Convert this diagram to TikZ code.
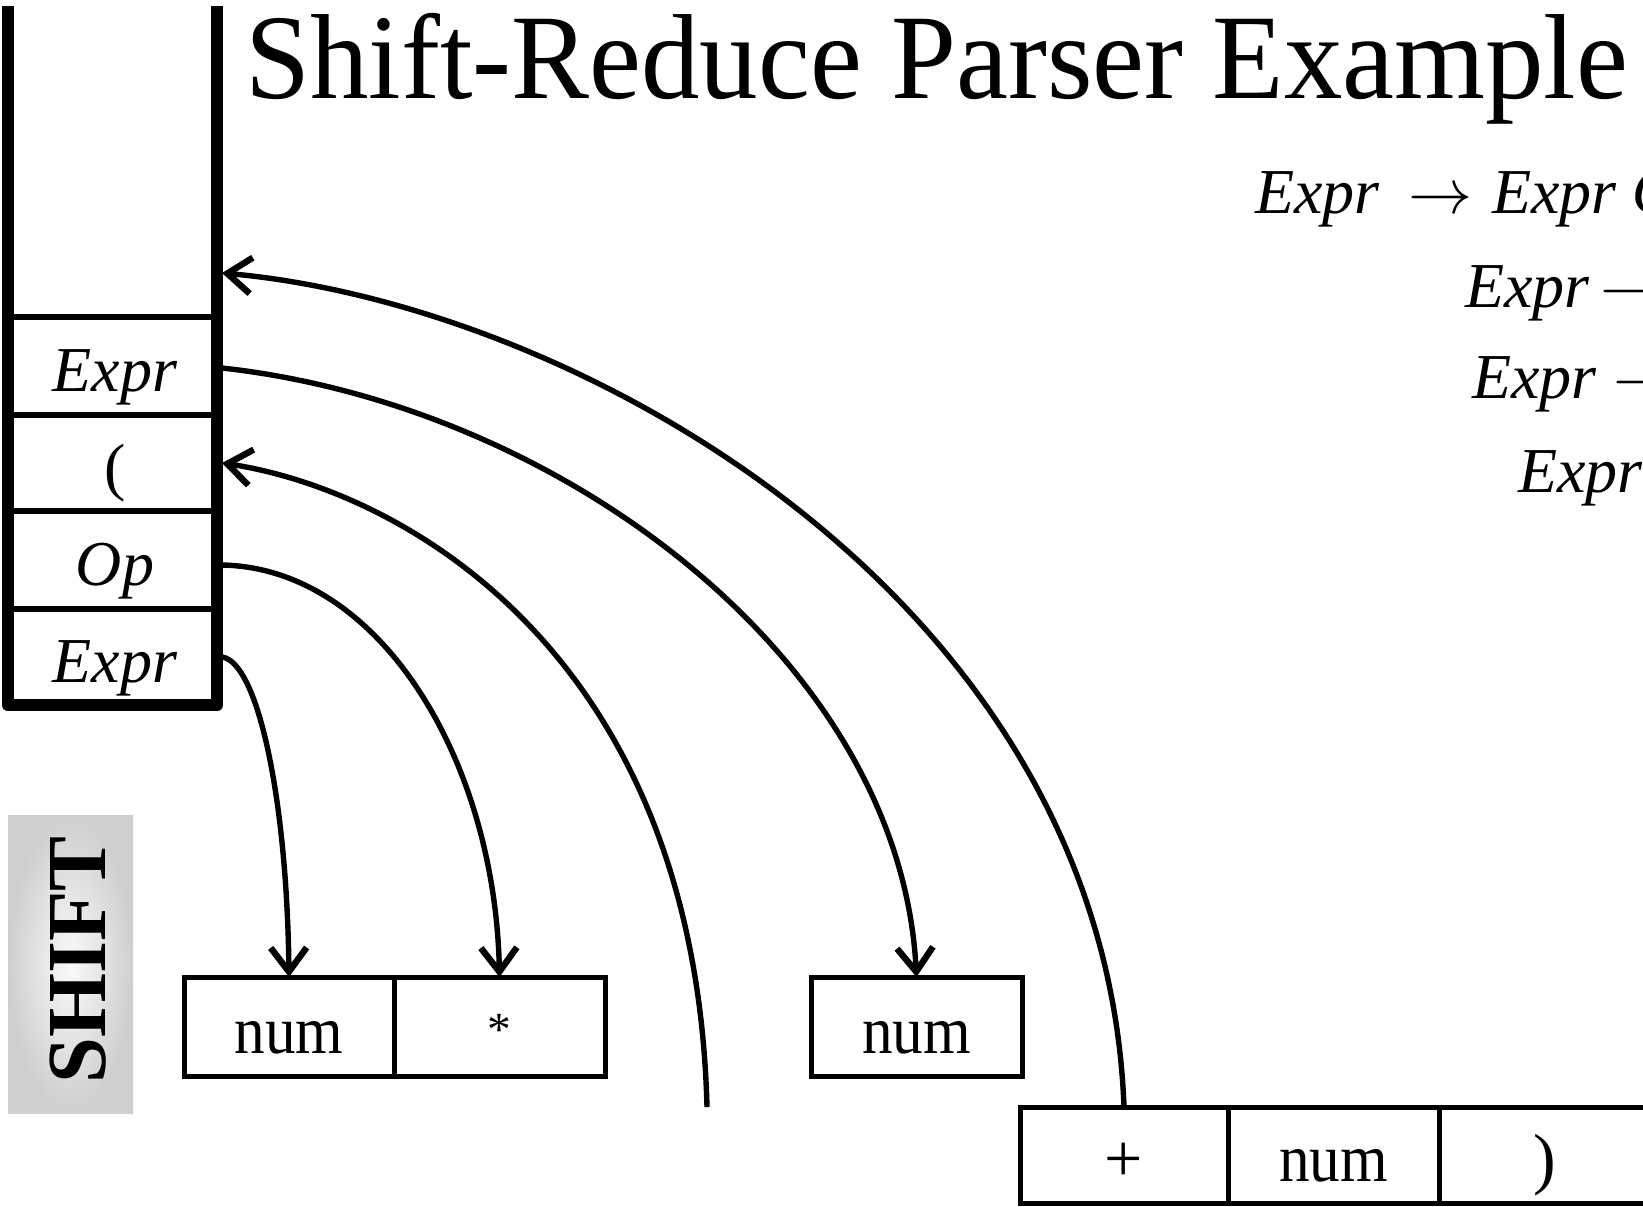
\RequirePackage{fix-cm}
\documentclass[tikz,border=0pt]{standalone}
\usepackage{fontspec}
\setmainfont{Liberation Serif}
\usetikzlibrary{arrows.meta,calc}

\begin{document}
\begin{tikzpicture}[x=0.5pt,y=-0.5pt,
  cell/.style={minimum width=107pt, inner sep=0pt, outer sep=0pt,
    font=\fontsize{32pt}{38pt}\selectfont\itshape,
    text height=32pt, text depth=7pt},
  tok/.style={draw, line width=2.5pt, minimum height=49.5pt, inner sep=0pt, outer sep=0pt,
    font=\fontsize{34pt}{40pt}\selectfont, text height=34pt, text depth=7.5pt},
  tokb/.style={tok, minimum height=48pt},
  link/.style={line width=2.7pt, -{Straight Barb[length=12pt,width=18pt,line width=3.2pt]}},
  rule/.style={anchor=base west, inner sep=0pt, font=\fontsize{32pt}{38pt}\selectfont},
]
\path[use as bounding box] (0,0) rectangle (1643,1206);
\clip (0,0) rectangle (1643,1206);

% title
\node[anchor=base west, inner sep=0pt, font=\fontsize{60.5pt}{70pt}\selectfont] (title) at (245,98)
  {\scalebox{0.966}[1]{Shift-Reduce Parser Example}};

% grammar rules
\node[rule] (r1) at (1255,213) {\textit{Expr}\hspace{14pt}$\rightarrow$\hspace{10pt}\textit{Expr Op}};
\node[rule] (r2) at (1465,307) {\textit{Expr}\hspace{5pt}$\rightarrow$};
\node[rule] (r3) at (1472,398) {\textit{Expr}\hspace{8pt}$\rightarrow$};
\node[rule] (r4) at (1518,492) {\textit{Expr}};

% stack cells
\node[cell, minimum height=154.5pt] (top) at (115,162.5) {};
\node[cell, minimum height=49pt] (e1) at (115,366) {Expr};
\node[cell, minimum height=48pt, font=\fontsize{32pt}{38pt}\selectfont\upshape] (lp) at (115,463) {(};
\node[cell, minimum height=49pt] (op) at (115,560) {Op};
\node[cell, minimum height=48pt] (e2) at (115,657) {Expr};

% stack frame and dividers
\draw[line width=3pt] (8,317) -- (217,317) (8,415) -- (217,415)
  (8,511) -- (217,511) (8,609) -- (217,609);
\draw[line width=6.3pt, line join=round] (8,6) -- (8,705) -- (217,705) -- (217,6);

% SHIFT label
\shade[inner color=gray!4, outer color=gray!38] (8,815) rectangle (133,1113);
\node[rotate=90, inner sep=0pt, font=\fontsize{42pt}{50pt}\selectfont\bfseries] (shift) at (78,960)
  {\scalebox{0.98}[1]{SHIFT}};

% input tokens
\node[tok, minimum width=105pt] (n1) at (289,1026.5) {\scalebox{0.9}[1]{num}};
\node[tok, minimum width=105.5pt] (star) at (499.5,1026.5) {\raisebox{4pt}{\scalebox{0.7}{*}}};
\node[tok, minimum width=105.5pt] (n2) at (916.5,1026.5) {\scalebox{0.9}[1]{num}};
\node[tokb, minimum width=104pt] (plus) at (1124,1155) {+};
\node[tokb, minimum width=105.5pt] (n3) at (1333.5,1155) {\scalebox{0.9}[1]{num}};
\node[tokb, minimum width=105.5pt] (rp) at (1544.5,1155) {)};

\coordinate (free) at (707,1107);

% shift / reduce connectors
\draw[link] (e2.east) .. controls (258,662) and (287,800) .. (n1.north);
\draw[link] ($(op.east)+(0,5)$) .. controls (380,568) and (495,760) .. (star.north);
\draw[link] (free) .. controls (695,650) and (400,490) .. (lp.east);
\draw[link] ($(e1.east)+(0,2)$) .. controls (560,405) and (900,660) .. (n2.north);
\draw[link] (plus.north) .. controls (1105,600) and (580,305) .. ($(top.east)+(0,110.5)$);
\end{tikzpicture}
\end{document}
